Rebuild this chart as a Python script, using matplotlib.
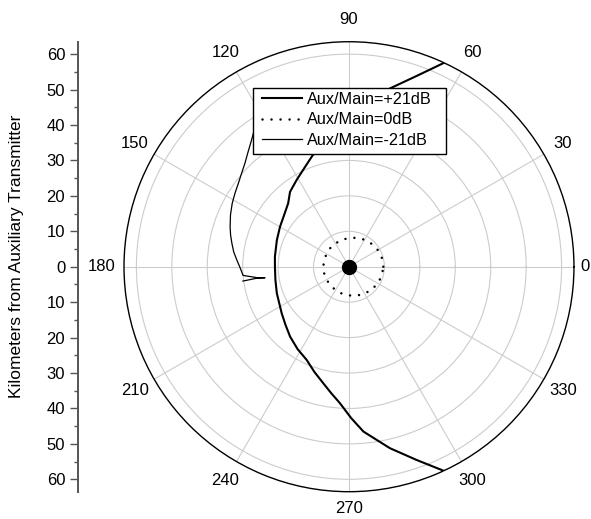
import numpy as np
import matplotlib
matplotlib.use("Agg")
import matplotlib.pyplot as plt
from matplotlib.patches import Rectangle
from matplotlib.ticker import FuncFormatter, MultipleLocator

plt.rcParams["font.family"] = ["Liberation Sans", "DejaVu Sans"]
plt.rcParams["font.size"] = 12

# Coverage contours, angle in degrees and distance in km
plus21_theta = [65.0, 70.4, 77.1, 89.6, 108.0, 113.7, 121.1, 128.2, 133.8, 141.5,
                149.9, 159.7, 172.3, 180.0, 190.2, 200.2, 214.7, 222.5, 229.9,
                238.0, 245.6, 251.9, 257.6, 262.1, 266.2, 270.8, 275.0, 282.7,
                289.3, 294.9]
plus21_r = [63.5, 57.2, 51.6, 40.8, 33.1, 30.8, 28.6, 26.9, 24.8, 23.4,
            22.5, 21.7, 21.1, 20.9, 21.1, 21.7, 23.1, 24.3, 25.8,
            27.4, 28.9, 31.3, 33.7, 36.1, 38.6, 42.7, 46.7, 52.5,
            57.8, 63.5]

zero_theta = [0, 15, 30, 45, 60, 75, 90, 105, 120, 135, 150, 165, 180,
              195, 210, 225, 240, 255, 270, 285, 300, 315, 330, 345, 360]
zero_r = [9.7, 9.6, 9.4, 9.1, 8.8, 8.45, 8.1, 7.85, 7.6, 7.45, 7.3, 7.25, 7.25,
          7.25, 7.3, 7.45, 7.6, 7.85, 8.1, 8.45, 8.8, 9.1, 9.4, 9.6, 9.7]

minus21_theta = [123.9, 128.1, 131.4, 135.2, 138.9, 143.0, 147.1, 151.5, 156.4,
                 161.4, 165.0, 168.7, 172.7, 176.6, 180.7, 184.7, 186.8, 187.5,
                 187.1, 187.7]
minus21_r = [47.5, 44.8, 43.1, 41.4, 40.2, 39.1, 38.3, 37.5, 36.5,
             35.4, 34.6, 33.7, 32.8, 31.7, 30.7, 30.0, 26.1, 23.9,
             26.2, 30.2]

r_max = 63.5
ring_km = [10, 20, 30, 40, 50, 60]
angle_ticks = list(range(0, 360, 30))
axis_ticks = np.arange(-60, 61, 10)

fig = plt.figure(figsize=(5.91, 5.19), dpi=100)
ax = fig.add_axes([0.2098, 0.0526, 0.7614, 0.867], projection="polar")

h1, = ax.plot(np.radians(plus21_theta), plus21_r, color="black", lw=1.5)
h2, = ax.plot(np.radians(zero_theta), zero_r, color="black", lw=1.8,
              linestyle=(0, (0.01, 3.6)), dash_capstyle="round")
h3, = ax.plot(np.radians(minus21_theta), minus21_r, color="black", lw=0.9)
ax.plot([0], [0], "o", color="black", ms=10, clip_on=False, zorder=5)

ax.set_rlim(0, r_max)
ax.set_yticks(ring_km)
ax.set_yticklabels([])
ax.set_xticks(np.radians(angle_ticks))
ax.set_xticklabels([])
ax.set_xticks(np.radians(np.arange(15, 360, 30)), minor=True)
ax.tick_params(axis="x", which="major", direction="in", length=6,
               width=1, color="#333333")
ax.tick_params(axis="x", which="minor", direction="in", length=3,
               width=0.8, color="#333333")
ax.tick_params(axis="y", length=0)
ax.grid(True, color="#cccccc", lw=0.8)
ax.spines["polar"].set_linewidth(1.0)
ax.spines["polar"].set_color("black")

# angle labels sit centred just outside the rim
label_dist = {0: 236, 270: 242}
for a in angle_ticks:
    r_lab = r_max * label_dist.get(a, 247) / 225
    ax.text(np.radians(a), r_lab, str(a), ha="center", va="center",
            fontsize=12, clip_on=False)

# legend box
fig.patches.append(Rectangle((253 / 591, 1 - 154 / 519), 193 / 591, 66 / 519,
                             transform=fig.transFigure, facecolor="white",
                             edgecolor="black", lw=1.0, zorder=4))
fig.legend([h1, h2, h3],
           ["Aux/Main=+21dB", "Aux/Main=0dB", "Aux/Main=-21dB"],
           loc="upper left", bbox_to_anchor=(262 / 591, 1 - 92 / 519),
           frameon=False, borderpad=0, borderaxespad=0, handlelength=2.45,
           handletextpad=0.3, labelspacing=0.33, fontsize=11.7)

# linear distance scale on the left
side = fig.add_axes([0.1315, 0.0526, 0.0005, 0.867])
side.set_facecolor("none")
for name in ("top", "right", "bottom"):
    side.spines[name].set_visible(False)
side.spines["left"].set_color("#555555")
side.spines["left"].set_linewidth(1.4)
side.set_xticks([])
side.set_ylim(-r_max, r_max)
side.set_yticks(axis_ticks)
side.yaxis.set_major_formatter(FuncFormatter(lambda v, _: f"{abs(v):.0f}"))
side.yaxis.set_minor_locator(MultipleLocator(5))
side.tick_params(axis="y", which="major", length=6, width=1,
                 color="#555555", labelsize=12, pad=3)
side.tick_params(axis="y", which="minor", length=3, width=1,
                 color="#555555")
fig.text(16.7 / 591, 1 - 256 / 519, "Kilometers from Auxiliary Transmitter",
         rotation=90, ha="center", va="center", fontsize=12.5)

fig.savefig("out.png", dpi=100)
